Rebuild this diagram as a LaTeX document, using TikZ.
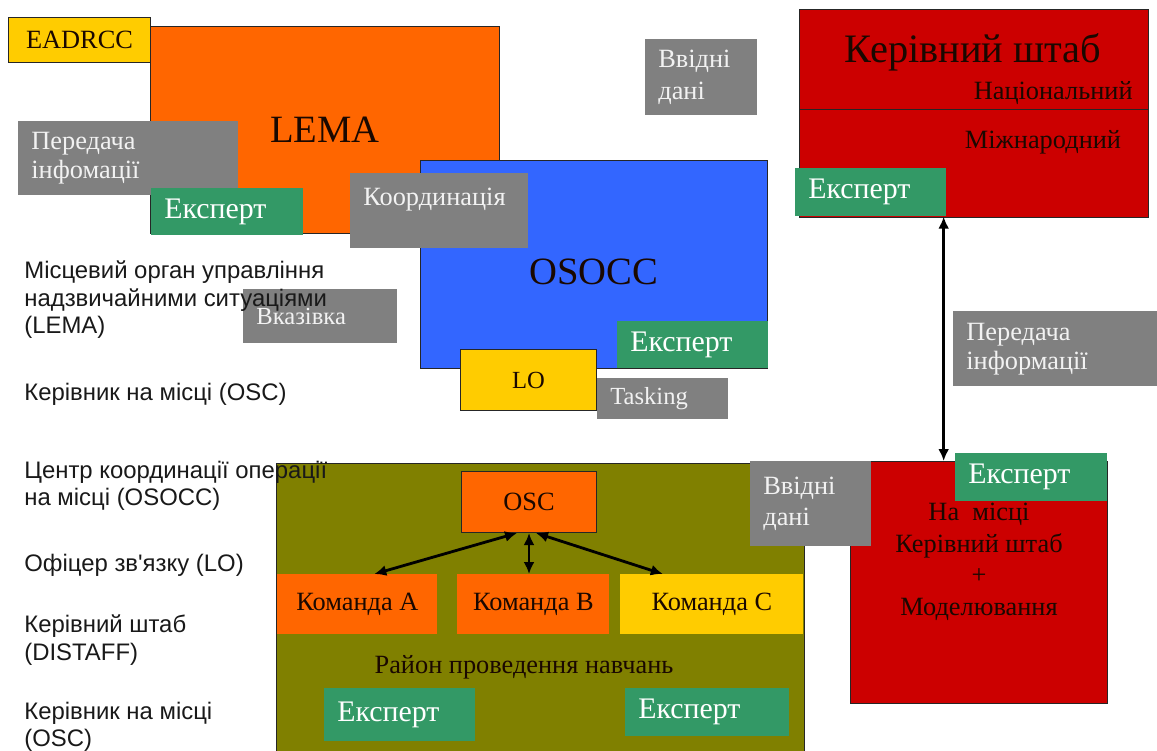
\documentclass[tikz,border=0pt]{standalone}
\usepackage{fontspec}
\setmainfont{Liberation Serif}
\newfontfamily\keyfont{Liberation Sans}
\usetikzlibrary{arrows.meta,calc}

\definecolor{lemaorange}{HTML}{FF6600}
\definecolor{loyellow}{HTML}{FFCC00}
\definecolor{osoccblue}{HTML}{3366FF}
\definecolor{taggray}{HTML}{808080}
\definecolor{tagtext}{HTML}{F2F2F2}
\definecolor{expgreen}{HTML}{339966}
\definecolor{staffred}{HTML}{CC0000}
\definecolor{areaolive}{HTML}{808000}
\definecolor{darkink}{HTML}{1A0800}

\begin{document}
\begin{tikzpicture}[
    x=0.02cm, y=-0.02cm,
    panel/.style={draw=black!85, line width=0.6pt, anchor=north west, inner sep=0pt, align=center, text=darkink},
    graybox/.style={fill=taggray, text=tagtext, anchor=north west, inner xsep=0.26cm, inner ysep=0pt, align=left, text width=#1, font=\fontsize{15}{16.5}\selectfont},
    expert/.style={fill=expgreen, text=white, anchor=north west, inner xsep=0.26cm, inner ysep=0pt, align=left, text width=#1, font=\fontsize{17}{20}\selectfont},
    team/.style={anchor=north west, inner sep=0pt, minimum height=1.2cm, text=darkink, font=\fontsize{15}{18}\selectfont},
    caption/.style={inner sep=0pt, text=darkink, font=\fontsize{15}{18}\selectfont},
    keytext/.style={anchor=west, align=left, inner sep=0pt, text=black!90, font=\keyfont\fontsize{13.6}{15.6}\selectfont},
    link/.style={{Latex[length=2.4mm,width=2.2mm]}-{Latex[length=2.4mm,width=2.2mm]}, line width=1.6pt}
]
\useasboundingbox (0,0) rectangle (1157,751);

% LEMA side
\node[panel, fill=loyellow, minimum width=2.84cm, minimum height=0.9cm, font=\fontsize{15}{18}\selectfont] (eadrcc) at (8,17) {EADRCC};
\node[panel, fill=lemaorange, minimum width=6.98cm, minimum height=4.14cm, font=\fontsize{22}{26}\selectfont] (lema) at (150,26) {LEMA};
\node[graybox=3.88cm, minimum height=1.48cm] (info-l) at (18,121) {Передача\\інфомації};
\node[expert=2.52cm, minimum height=0.94cm] (exp-lema) at (151,188) {Експерт};

% headquarters
\node[panel, fill=staffred, minimum width=6.98cm, minimum height=4.16cm] (hq) at (799,9) {};
\draw[black!85, line width=0.6pt] ($(hq.north west)!0.48!(hq.south west)$) -- ($(hq.north east)!0.48!(hq.south east)$);
\node[caption, font=\fontsize{23}{27}\selectfont] (hq-title) at (973,52) {Керівний штаб};
\node[caption, anchor=east] (hq-nat) at (1133,93) {Національний};
\node[caption] (hq-int) at (1043,142) {Міжнародний};
\node[expert=2.50cm, minimum height=0.96cm] (exp-hq) at (795,168) {Експерт};
\node[graybox=1.72cm, minimum height=1.52cm, font=\fontsize{15}{18}\selectfont] (input-top) at (645,39) {Ввідні\\дані};

% OSOCC
\node[panel, fill=osoccblue, minimum width=6.94cm, minimum height=4.16cm, text height=23pt, text depth=0pt, font=\fontsize{22}{26}\selectfont] (osocc) at (420,160) {OSOCC};
\node[graybox=3.04cm, minimum height=1.50cm] (coord) at (350,173) {Координація\\ \mbox{}};
\node[expert=2.50cm, minimum height=0.94cm] (exp-osocc) at (617,321) {Експерт};
\node[panel, fill=loyellow, minimum width=2.72cm, minimum height=1.22cm, font=\fontsize{14}{17}\selectfont] (lo) at (460,349) {LO};
\node[graybox=2.10cm, minimum height=0.82cm, font=\fontsize{14}{17}\selectfont] (tasking) at (597,378) {Tasking};
\node[graybox=2.56cm, minimum height=1.08cm, font=\fontsize{14}{17}\selectfont] (vkaz) at (243,289) {Вказівка};
\node[graybox=3.56cm, minimum height=1.50cm] (info-r) at (953,311) {Передача\\інформації};

% exercise area
\node[panel, fill=areaolive, minimum width=10.56cm, minimum height=5.94cm] (area) at (276,463) {};
\node[caption] (area-txt) at (524,667) {Район проведення навчань};
\node[panel, fill=lemaorange, minimum width=2.70cm, minimum height=1.22cm, font=\fontsize{15}{18}\selectfont] (osc) at (461,471) {OSC};
\node[team, fill=lemaorange, minimum width=3.20cm] (team-a) at (277,574) {Команда A};
\node[team, fill=lemaorange, minimum width=3.04cm] (team-b) at (457,574) {Команда B};
\node[team, fill=loyellow, minimum width=3.66cm] (team-c) at (620,574) {Команда C};
\node[expert=2.50cm, minimum height=1.06cm] (exp-a) at (324,688) {Експерт};
\node[expert=2.76cm, minimum height=0.96cm] (exp-b) at (625,688) {Експерт};

% on-site staff
\node[panel, fill=staffred, minimum width=5.14cm, minimum height=4.84cm] (site) at (850,461) {};
\node[caption, align=center] (site-txt) at (979,562) {На\ \ місці\\Керівний штаб\\+\\Моделювання};
\node[expert=2.52cm, minimum height=0.96cm] (exp-site) at (955,453) {Експерт};
\node[graybox=1.90cm, minimum height=1.70cm, font=\fontsize{15}{18}\selectfont] (input-bot) at (750,461) {Ввідні\\дані};

% connectors
\draw[link] ($(osc.south)+(-12,0)$) -- ($(team-a.north)+(17,0)$);
\draw[link] (osc.south) -- (osc.south |- team-b.north);
\draw[link] ($(osc.south)+(7,0)$) -- ($(team-c.north)+(-49,0)$);
\draw[link] ($(exp-hq.south east)+(-3,0)$) -- ($(exp-hq.south east |- site.north)+(-3,0)$);

% legend
\node[keytext] (key-lema) at (24,300) {Місцевий орган управління\\надзвичайними ситуаціями\\(LEMA)};
\node[keytext] (key-osc) at (24,394) {Керівник на місці (OSC)};
\node[keytext] (key-osocc) at (24,486) {Центр координації операції\\на місці (OSOCC)};
\node[keytext] (key-lo) at (24,565) {Офіцер зв\textquotesingle язку (LO)};
\node[keytext] (key-distaff) at (24,640) {Керівний штаб\\(DISTAFF)};
\node[keytext] (key-osc2) at (24,727) {Керівник на місці\\(OSC)};
\end{tikzpicture}
\end{document}
